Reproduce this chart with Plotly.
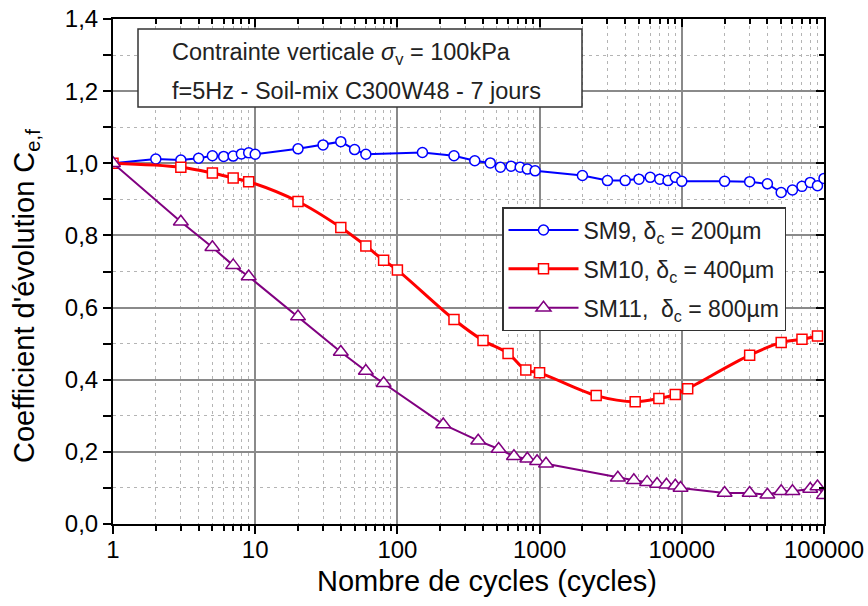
import plotly.graph_objects as go

# Number of cycles / evolution coefficient for the three soil-mix samples
sm9_cycles = [1, 2, 3, 4, 5, 6, 7, 8, 9, 10, 20, 30, 40, 50, 60, 150, 250, 350, 450, 530,
              630, 730, 820, 930, 2000, 3000, 4000, 5000, 6000, 7000, 8000, 9000, 10000,
              20000, 30000, 40000, 50000, 60000, 70000, 80000, 90000, 100000]
sm9_coef = [1.0, 1.012, 1.009, 1.014, 1.021, 1.019, 1.020, 1.026, 1.029, 1.025, 1.040, 1.051,
            1.060, 1.038, 1.025, 1.030, 1.021, 1.007, 1.001, 0.989, 0.992, 0.989, 0.984,
            0.979, 0.966, 0.952, 0.952, 0.956, 0.961, 0.956, 0.952, 0.961, 0.950, 0.950,
            0.949, 0.943, 0.919, 0.926, 0.936, 0.947, 0.938, 0.958]

sm10_cycles = [1, 3, 5, 7, 9, 20, 40, 60, 80, 100, 250, 400, 600, 800, 1000, 2500, 4700,
               6900, 9000, 11000, 30000, 50000, 70000, 90000]
sm10_coef = [1.0, 0.989, 0.973, 0.959, 0.949, 0.894, 0.822, 0.771, 0.731, 0.704, 0.567,
             0.509, 0.473, 0.427, 0.419, 0.356, 0.339, 0.348, 0.359, 0.375, 0.468, 0.503,
             0.512, 0.521]

sm11_cycles = [1, 3, 5, 7, 9, 20, 40, 60, 80, 210, 370, 515, 660, 820, 960, 1110, 3550,
               4600, 5700, 6700, 7800, 9000, 9800, 20000, 30000, 40000, 50000, 60000,
               80000, 90000, 100000]
sm11_coef = [1.0, 0.838, 0.767, 0.717, 0.686, 0.575, 0.477, 0.424, 0.390, 0.276, 0.231,
             0.208, 0.188, 0.181, 0.174, 0.167, 0.128, 0.121, 0.116, 0.111, 0.109, 0.106,
             0.100, 0.086, 0.086, 0.081, 0.091, 0.091, 0.097, 0.104, 0.080]

series_names = ["SM9, δ<sub>c</sub> = 200µm",
                "SM10, δ<sub>c</sub> = 400µm",
                "SM11, \u00a0δ<sub>c</sub> = 800µm"]

x_tick_vals = [1, 10, 100, 1000, 10000, 100000]
x_tick_text = ["1", "10", "100", "1000", "10000", "100000"]
x_minor_vals = [m * 10 ** d for d in range(5) for m in range(2, 10)]
y_tick_vals = [0.0, 0.2, 0.4, 0.6, 0.8, 1.0, 1.2, 1.4]
y_tick_text = ["0,0", "0,2", "0,4", "0,6", "0,8", "1,0", "1,2", "1,4"]

FONT = "Liberation Sans, Arial, sans-serif"
W, H = 868, 606
ML, MR, MT, MB = 113, 44, 19, 82
PW, PH = W - ML - MR, H - MT - MB


def px_x(p):
    return (p - ML) / PW


def px_y(p):
    return 1 - (p - MT) / PH


fig = go.Figure()

styles = [
    dict(color="#0000ff", symbol="circle", size=10, width=2, shape="linear"),
    dict(color="#ff0000", symbol="square", size=10, width=3, shape="spline"),
    dict(color="#800080", symbol="triangle-up", size=13, width=2, shape="linear"),
]
data = [(sm9_cycles, sm9_coef), (sm10_cycles, sm10_coef), (sm11_cycles, sm11_coef)]

for (xs, ys), name, st in zip(data, series_names, styles):
    fig.add_trace(go.Scatter(
        x=xs, y=ys, name=name, mode="lines+markers", legendgroup=name,
        line=dict(color=st["color"], width=st["width"], shape=st["shape"]),
        marker=dict(symbol=st["symbol"], size=st["size"], color="white",
                    line=dict(color=st["color"], width=1.5)),
    ))

# companion axes for the inner ticks on the top and right frame
fig.add_trace(go.Scatter(x=[1], y=[0], xaxis="x2", yaxis="y2", mode="lines",
                         showlegend=False, hoverinfo="skip"))

grid_major = "#8a8a8a"
grid_minor = "#b4b4b4"

fig.update_layout(
    width=W, height=H,
    margin=dict(l=ML, r=MR, t=MT, b=MB, autoexpand=False),
    paper_bgcolor="white", plot_bgcolor="white",
    font=dict(family=FONT, color="black"),
    xaxis=dict(
        type="log", range=[0, 5], tickmode="array", tickvals=x_tick_vals, ticktext=x_tick_text,
        ticks="outside", ticklen=8, tickwidth=2, tickcolor="black", automargin=False,
        showline=True, linecolor="black", linewidth=2, zeroline=False,
        showgrid=True, gridcolor=grid_major, gridwidth=1.5,
        tickfont=dict(size=24), ticklabelstandoff=-5,
        minor=dict(tickmode="array", tickvals=x_minor_vals, ticks="outside", ticklen=5,
                   tickwidth=2, tickcolor="black", showgrid=True, gridcolor=grid_minor,
                   gridwidth=1, griddash="3px,4px"),
    ),
    yaxis=dict(
        range=[0, 1.4], tickmode="array", tickvals=y_tick_vals, ticktext=y_tick_text,
        ticks="outside", ticklen=8, tickwidth=2, tickcolor="black", automargin=False,
        showline=True, linecolor="black", linewidth=2, zeroline=False,
        showgrid=True, gridcolor=grid_major, gridwidth=1.5,
        tickfont=dict(size=24),
        minor=dict(dtick=0.1, tick0=0, ticks="outside", ticklen=8, tickwidth=2,
                   tickcolor="black", showgrid=True, gridcolor=grid_minor, gridwidth=1,
                   griddash="3px,4px"),
    ),
    xaxis2=dict(
        type="log", range=[0, 5], overlaying="x", side="top", anchor="y2", automargin=False,
        tickmode="array", tickvals=x_tick_vals, showticklabels=False,
        ticks="inside", ticklen=8, tickwidth=2, tickcolor="black",
        showline=True, linecolor="black", linewidth=2, showgrid=False, zeroline=False,
        minor=dict(tickmode="array", tickvals=x_minor_vals, ticks="inside", ticklen=5,
                   tickwidth=2, tickcolor="black", showgrid=False),
    ),
    yaxis2=dict(
        range=[0, 1.4], overlaying="y", side="right", anchor="x2", automargin=False,
        tickmode="array", tickvals=y_tick_vals, showticklabels=False,
        ticks="inside", ticklen=8, tickwidth=2, tickcolor="black",
        showline=True, linecolor="black", linewidth=2, showgrid=False, zeroline=False,
        minor=dict(dtick=0.1, tick0=0, ticks="inside", ticklen=5, tickwidth=2,
                   tickcolor="black", showgrid=False),
    ),
    legend=dict(
        x=px_x(502), y=px_y(207), xanchor="left", yanchor="top",
        bgcolor="white", bordercolor="#333333", borderwidth=1.5,
        font=dict(family=FONT, size=23, color="#222222"),
        tracegroupgap=6, itemwidth=70,
    ),
    shapes=[dict(type="rect", xref="paper", yref="paper",
                 x0=px_x(138), x1=px_x(582), y0=px_y(107), y1=px_y(29),
                 line=dict(color="#333333", width=1.5), fillcolor="white", layer="above")],
    annotations=[
        dict(text="Contrainte verticale <i>σ</i><sub>v</sub> = 100kPa",
             xref="paper", yref="paper", x=px_x(170), y=px_y(53),
             xanchor="left", yanchor="middle", showarrow=False,
             font=dict(size=23.5, color="#222222")),
        dict(text="f=5Hz - Soil-mix C300W48 - 7 jours",
             xref="paper", yref="paper", x=px_x(170), y=px_y(91),
             xanchor="left", yanchor="middle", showarrow=False,
             font=dict(size=23.5, color="#222222")),
        dict(text="Nombre de cycles (cycles)",
             xref="paper", yref="paper", x=px_x(487), y=px_y(581),
             xanchor="center", yanchor="middle", showarrow=False,
             font=dict(size=29, color="black")),
        dict(text="Coefficient d'évolution C<sub>e,f</sub>",
             xref="paper", yref="paper", x=px_x(26), y=px_y(296),
             xanchor="center", yanchor="middle", showarrow=False, textangle=-90,
             font=dict(size=29, color="black")),
    ],
)

fig.write_html("out.html")
